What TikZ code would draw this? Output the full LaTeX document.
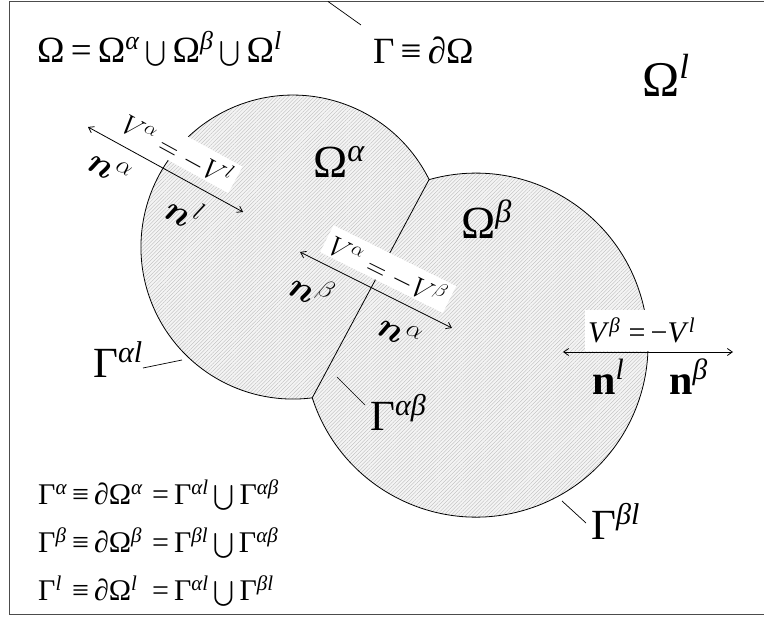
\RequirePackage{fix-cm}
\documentclass[tikz,border=0pt]{standalone}
\usepackage{amsmath}
\usepackage{fontspec}
\setmainfont{Liberation Serif}
\usetikzlibrary{patterns.meta,calc,arrows.meta}
\newcommand{\sps}[1]{\textsuperscript{\normalfont\itshape #1}}
\begin{document}
\begin{tikzpicture}[x=1pt,y=-1pt,
  lbl/.style={inner sep=0pt},
  outline/.style={line width=0.8pt},
  vec/.style={line width=0.8pt,{Straight Barb[length=5pt,width=7pt]}-{Straight Barb[length=5pt,width=7pt]}},
  leader/.style={line width=0.7pt},
  vlab/.style={fill=white, anchor=base, inner xsep=5pt, inner ysep=1.5pt, text height=26pt, text depth=1pt, font=\fontsize{28}{30}\selectfont},
  nlab/.style={inner sep=0pt, font=\fontsize{36}{38}\selectfont},
  gam/.style={lbl, anchor=base west, font=\fontsize{43}{46}\selectfont},
  reg/.style={lbl, anchor=base west, font=\fontsize{46}{50}\selectfont},
  eqn/.style={lbl, anchor=base west, font=\fontsize{30}{34}\selectfont}]
\useasboundingbox (0,0) rectangle (764,617);
\draw[line width=1pt, black!70] (764,1.5) -- (9.5,1.5) -- (9.5,615) -- (764,615);
% regions
\coordinate (Ca) at (293,247);
\coordinate (Cb) at (476,345);
\coordinate (T) at (429.1,179.5);
\coordinate (B) at (312.3,397.7);
\fill[gray!9] (Ca) circle[radius=152pt] (Cb) circle[radius=172pt];
\fill[pattern={Lines[angle=45,distance=2.6pt,line width=0.35pt]}, pattern color=gray!55] (Ca) circle[radius=152pt] (Cb) circle[radius=172pt];
\draw[outline] (T) arc[start angle=26.4, end angle=277.3, radius=152pt] arc[start angle=197.85, end angle=465.8, radius=172pt] -- cycle;
\draw[outline] (T) -- (B);
% region names
\node[reg] (omA) at (313,178) {Ω\sps{α}};
\node[reg] (omB) at (461,239) {Ω\sps{β}};
% top texts
\node[lbl, anchor=base west, font=\fontsize{37}{40}\selectfont] (eqOmega) at (37,63) {Ω\,=\,Ω\sps{α}\,$\bigcup$\,Ω\sps{β}\,$\bigcup$\,Ω\sps{l}};
\node[lbl, anchor=base west, font=\fontsize{37}{40}\selectfont] (eqGamma) at (373,64) {Γ\,≡\,∂Ω};
\node[lbl, anchor=base west, font=\fontsize{50}{54}\selectfont] (omegaL) at (642,97) {Ω\sps{l}};
\coordinate (topA) at (328,1.5);
\coordinate (topB) at (361,25);
\draw[leader] (topA) -- (topB);
% gamma labels
\node[gam] (gal) at (93,378) {Γ\sps{αl}};
\node[gam] (gab) at (370,431) {Γ\sps{αβ}};
\node[gam] (gbl) at (591,540) {Γ\sps{βl}};
\coordinate (galA) at (143,368); \coordinate (galB) at (182,360);
\coordinate (gabA) at (337,377); \coordinate (gabB) at (365,405);
\coordinate (gblA) at (562,501); \coordinate (gblB) at (586,523);
\draw[leader] (galA) -- (galB);
\draw[leader] (gabA) -- (gabB);
\draw[leader] (gblA) -- (gblB);
% bottom equations
\node[eqn] (eqA) at (38,505) {\makebox[34pt][l]{Γ\sps{α}}\makebox[80pt][l]{≡\,∂Ω\sps{α}}=\,Γ\sps{αl}\,$\bigcup$\,Γ\sps{αβ}};
\node[eqn] (eqB) at (38,553) {\makebox[34pt][l]{Γ\sps{β}}\makebox[80pt][l]{≡\,∂Ω\sps{β}}=\,Γ\sps{βl}\,$\bigcup$\,Γ\sps{αβ}};
\node[eqn] (eqL) at (38,601) {\makebox[34pt][l]{Γ\sps{l}}\makebox[80pt][l]{≡\,∂Ω\sps{l}}=\,Γ\sps{αl}\,$\bigcup$\,Γ\sps{βl}};
% vector A
\coordinate (a1) at (88,127); \coordinate (a2) at (243,212);
\draw[vec] (a1) -- (a2);
\node[vlab, rotate=-28.74] (vA) at (171.9,159.3) {$V^{\alpha} = -V^{l}$};
\node[nlab, rotate=-28.74] (naA) at (109.7,168.6) {$\boldsymbol{n}^{\alpha}$};
\node[nlab, rotate=-28.74] (nlA) at (185.1,211) {$\boldsymbol{n}^{l}$};
% vector B
\coordinate (b1) at (300,252); \coordinate (b2) at (452,328);
\draw[vec] (b1) -- (b2);
\node[vlab, rotate=-26.4] (vB) at (382.6,280.3) {$V^{\alpha} = -V^{\beta}$};
\node[nlab, rotate=-26.4] (nbB) at (312.2,289) {$\boldsymbol{n}^{\beta}$};
\node[nlab, rotate=-26.4] (naB) at (399.9,332.5) {$\boldsymbol{n}^{\alpha}$};
% vector C
\coordinate (c1) at (563,352); \coordinate (c2) at (733,352);
\node[fill=white, inner xsep=3pt, inner ysep=0pt, text height=33pt, text depth=8pt, anchor=base west, font=\fontsize{30}{32}\selectfont] (vC) at (585,343) {\textit{V}\sps{β}\;=\,−\textit{V}\sps{l}};
\draw[vec] (c1) -- (c2);
\node[lbl, anchor=base west, font=\fontsize{42}{44}\selectfont\bfseries] (nlC) at (592,395) {n\sps{l}};
\node[lbl, anchor=base west, font=\fontsize{42}{44}\selectfont\bfseries] (nbC) at (669,395) {n\sps{β}};
\end{tikzpicture}
\end{document}
